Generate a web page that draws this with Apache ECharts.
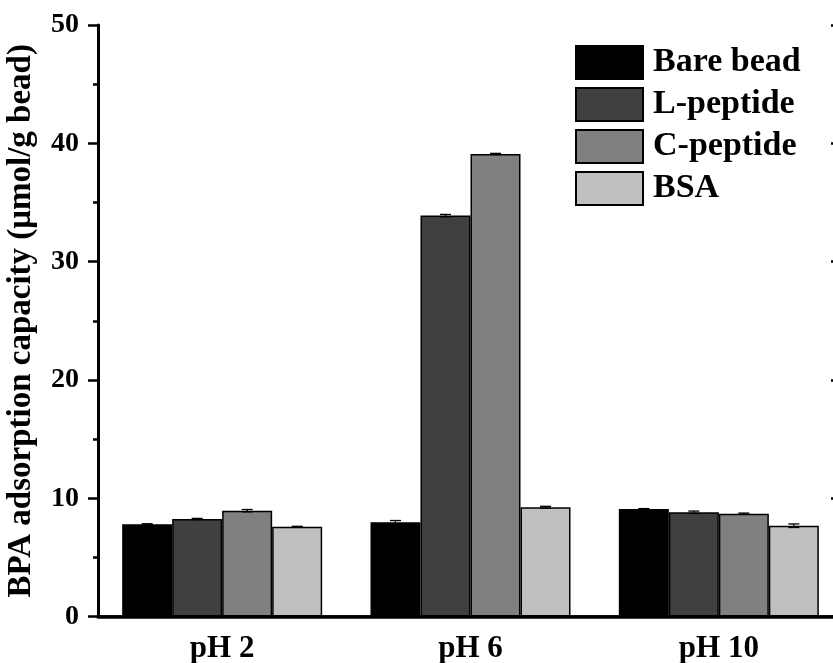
<!DOCTYPE html>
<html>
<head>
<meta charset="utf-8">
<script src="https://cdn.jsdelivr.net/npm/echarts@6/dist/echarts.min.js"></script>
<style>
  html, body { margin: 0; padding: 0; background: #fff; }
  #chart { width: 833px; height: 663px; }
</style>
</head>
<body>
<div id="chart"></div>
<script>
// Adsorption capacity of BPA on beads at three pH values
const categories = ['pH 2', 'pH 6', 'pH 10'];
const seriesNames = ['Bare bead', 'L-peptide', 'C-peptide', 'BSA'];
const bareBead = [7.80, 7.97, 9.10];
const lPeptide = [8.25, 33.89, 8.82];
const cPeptide = [8.95, 39.10, 8.70];
const bsa = [7.60, 9.24, 7.68];
// standard deviations
const bareBeadErr = [0.05, 0.15, 0.03];
const lPeptideErr = [0.05, 0.10, 0.10];
const cPeptideErr = [0.10, 0.05, 0.05];
const bsaErr = [0.03, 0.08, 0.15];
const yTicks = [0, 10, 20, 30, 40, 50];

const values = [bareBead, lPeptide, cPeptide, bsa];
const errors = [bareBeadErr, lPeptideErr, cPeptideErr, bsaErr];
const colors = ['#000000', '#404040', '#808080', '#c0c0c0'];
const FONT = 'Liberation Serif, Times New Roman, serif';
const BAR_W = 50;

const chart = echarts.init(document.getElementById('chart'));

const barSeries = seriesNames.map((name, i) => ({
  name: name,
  type: 'bar',
  data: values[i],
  barWidth: BAR_W,
  barGap: '0%',
  itemStyle: { color: colors[i], borderColor: '#000', borderWidth: 1.5 },
  emphasis: { disabled: true },
  z: 2
}));

const errSeries = seriesNames.map((name, i) => ({
  type: 'custom',
  name: name + ' err',
  data: values[i].map((v, j) => [j, v, errors[i][j]]),
  renderItem: function (params, api) {
    const idx = api.value(0);
    const v = api.value(1);
    const e = api.value(2);
    const off = (i - 1.5) * BAR_W;
    const top = api.coord([idx, v + e]);
    const bot = api.coord([idx, v - e]);
    const x = top[0] + off;
    const cap = 5.5;
    const st = { stroke: '#000', lineWidth: 1.3 };
    return {
      type: 'group',
      children: [
        { type: 'line', shape: { x1: x, y1: top[1], x2: x, y2: bot[1] }, style: st },
        { type: 'line', shape: { x1: x - cap, y1: top[1], x2: x + cap, y2: top[1] }, style: st },
        { type: 'line', shape: { x1: x - cap, y1: bot[1], x2: x + cap, y2: bot[1] }, style: st }
      ]
    };
  },
  z: 3,
  silent: true
}));

chart.setOption({
  animation: false,
  // the frame runs slightly past the right edge of the canvas
  grid: { left: 98, top: 25, width: 745, height: 591.6, outerBoundsMode: 'none', containLabel: false },
  legend: {
    data: seriesNames,
    orient: 'vertical',
    left: 570,
    top: 40,
    itemWidth: 67,
    itemHeight: 33,
    itemGap: 7,
    icon: 'rect',
    selectedMode: false,
    textStyle: { fontFamily: FONT, fontWeight: 'bold', fontSize: 34, color: '#000', padding: [0, 0, 0, 5] }
  },
  xAxis: [
    {
      type: 'category',
      data: categories,
      position: 'bottom',
      axisLine: { lineStyle: { color: '#000', width: 3.5 } },
      axisTick: { show: false },
      axisLabel: { fontFamily: FONT, fontWeight: 'bold', fontSize: 31, color: '#000', margin: 17 }
    },
    {
      type: 'category',
      data: categories,
      position: 'top',
      axisLine: { lineStyle: { color: '#000', width: 2.5 } },
      axisTick: { show: false },
      axisLabel: { show: false }
    }
  ],
  yAxis: [
    {
      type: 'value',
      min: yTicks[0],
      max: yTicks[yTicks.length - 1],
      interval: 10,
      position: 'left',
      name: 'BPA adsorption capacity (μmol/g bead)',
      nameLocation: 'middle',
      nameGap: 60,
      nameTextStyle: { fontFamily: FONT, fontWeight: 'bold', fontSize: 33, color: '#000' },
      axisLine: { show: true, lineStyle: { color: '#000', width: 3 } },
      axisTick: { show: true, inside: false, length: 10, lineStyle: { color: '#000', width: 2.5 } },
      minorTick: { show: true, splitNumber: 2, length: 5, lineStyle: { color: '#000', width: 2.5 } },
      axisLabel: { fontFamily: FONT, fontWeight: 'bold', fontSize: 28, color: '#000', margin: 19 },
      splitLine: { show: false }
    },
    {
      type: 'value',
      min: yTicks[0],
      max: yTicks[yTicks.length - 1],
      interval: 10,
      position: 'right',
      axisLine: { show: true, lineStyle: { color: '#000', width: 3 } },
      axisTick: { show: true, inside: true, length: 12, lineStyle: { color: '#000', width: 2.5 } },
      axisLabel: { show: false },
      splitLine: { show: false }
    }
  ],
  series: barSeries.concat(errSeries)
});
</script>
</body>
</html>
